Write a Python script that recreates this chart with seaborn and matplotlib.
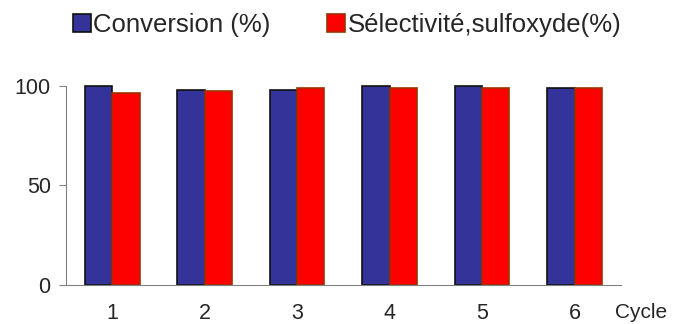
import pandas as pd
import numpy as np
import matplotlib
matplotlib.use('Agg')
import matplotlib.pyplot as plt
import seaborn as sns

#------------------------------------------------
cycles=['1', '2', '3', '4', '5', '6']
conversion=[100, 98, 98, 100, 100, 99]
selectivite=[96.5, 97.5, 99, 99, 99, 99]
series=['Conversion (%)', 'Sélectivité,sulfoxyde(%)']

#########################################################
df=pd.DataFrame({
    'cycle': cycles*2,
    'value': conversion+selectivite,
    'serie': [series[0]]*len(cycles)+[series[1]]*len(cycles),
})

sns.set_style('white')
plt.rcParams['font.family']=['Liberation Sans', 'DejaVu Sans']

fig=plt.figure(figsize=(6.77, 3.24), dpi=100)
ax=fig.add_axes([0.0975, 0.1204, 0.8195, 0.6142])

pal={series[0]: '#333399', series[1]: '#ff0000'}
edges=['#111111', '#993300']
sns.barplot(data=df, x='cycle', y='value', hue='serie', palette=pal,
            width=0.59, saturation=1, ax=ax, legend=True)

for cont, ec in zip(ax.containers, edges):
    for p in cont:
        p.set_edgecolor(ec)
        p.set_linewidth(1.2)
        p.set_clip_on(False)

#axes
ax.set_xlim(-0.5, len(cycles)-0.5)
ax.set_ylim(0, 100)
ax.set_yticks([0, 50, 100])
ax.set_xticks(range(len(cycles)))
ax.set_xticks(np.arange(-0.5, len(cycles), 1), minor=True)
ax.tick_params(axis='x', which='major', length=0, labelsize=15.5, pad=13)
ax.tick_params(axis='x', which='minor', length=6, width=0.8, color='#808080', direction='out')
ax.tick_params(axis='y', which='major', length=5, width=0.8, color='#808080', direction='out',
               labelsize=15.5, pad=6, left=True)
ax.set_xlabel('')
ax.set_ylabel('')
for s in ['top', 'right']:
    ax.spines[s].set_visible(False)
for s in ['left', 'bottom']:
    ax.spines[s].set_color('#808080')
    ax.spines[s].set_linewidth(0.8)
fig.text(0.908, 0.035, 'Cycle', fontsize=15, ha='left', va='center')

#legend
h, l=ax.get_legend_handles_labels()
ax.get_legend().remove()
leg=fig.legend(h, l, loc='center', bbox_to_anchor=(0.513, 0.923), ncol=2, frameon=False,
               fontsize=18.5, handlelength=0.7, handleheight=0.7, handletextpad=0.1,
               columnspacing=2.2)
for hd, ec in zip(leg.legend_handles, edges):
    hd.set_edgecolor(ec)
    hd.set_linewidth(1.2)

plt.savefig('out.png', dpi=100)
plt.close()
